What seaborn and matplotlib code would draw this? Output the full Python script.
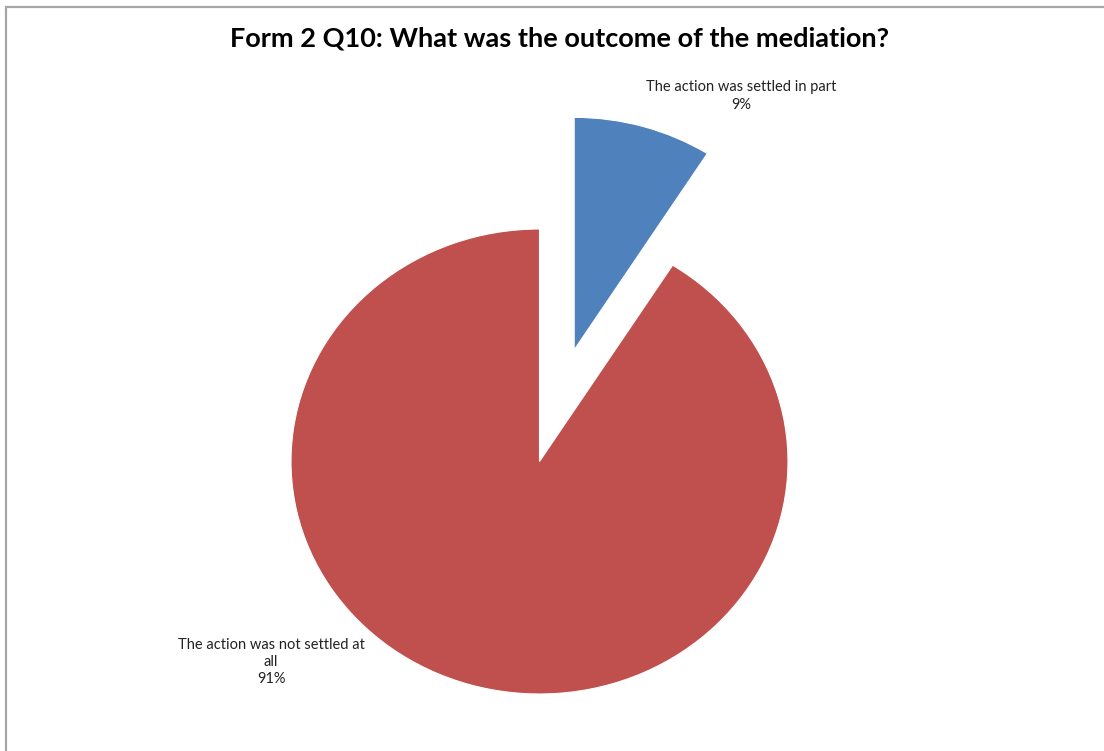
import matplotlib
matplotlib.use("Agg")
import matplotlib.pyplot as plt
import seaborn as sns
from matplotlib.patches import Rectangle

# Data
categories = ["The action was settled in part", "The action was not settled at\nall"]
percentages = [9, 91]
colors_hex = ["#4F81BD", "#C0504D"]
title_text = "Form 2 Q10: What was the outcome of the mediation?"

sns.set_theme(style="white")
plt.rcParams["font.family"] = ["Lato", "DejaVu Sans"]
palette = sns.color_palette(colors_hex)

W, H = 1104, 751
fig = plt.figure(figsize=(W / 100, H / 100), dpi=100)
fig.patch.set_facecolor("white")

# border (top and left visible)
fig.patches.append(Rectangle((6 / W, -0.05), 1.2, 1 - 7 / H + 0.05, transform=fig.transFigure,
                             fill=False, edgecolor="#a6a6a6", linewidth=1.6, zorder=0))

# pie axes sized to the pie's bounding box (elliptical)
left, right, top, bottom = 291, 788, 229, 694
ax = fig.add_axes([left / W, 1 - bottom / H, (right - left) / W, (bottom - top) / H])
wedges, _ = ax.pie(percentages, colors=palette, startangle=90, counterclock=False,
                   explode=[0.5, 0], radius=1.0,
                   wedgeprops=dict(edgecolor="white", linewidth=0.8))
ax.set_aspect("auto")
ax.set_xlim(-1, 1)
ax.set_ylim(-1, 1)
ax.axis("off")
for w in wedges:
    w.set_clip_on(False)

label_pos = [(0.811, 1.572), (-1.080, -0.862)]
for cat, pct, (lx, ly) in zip(categories, percentages, label_pos):
    ax.text(lx, ly, f"{cat}\n{pct}%", ha="center", va="center", fontsize=10.5,
            color="#222222", linespacing=1.28, clip_on=False)

fig.text(560 / W, 1 - 38 / H, title_text, ha="center", va="center",
         fontsize=19.5, fontweight="bold", color="black")

fig.savefig("out.png", dpi=100, facecolor="white")
